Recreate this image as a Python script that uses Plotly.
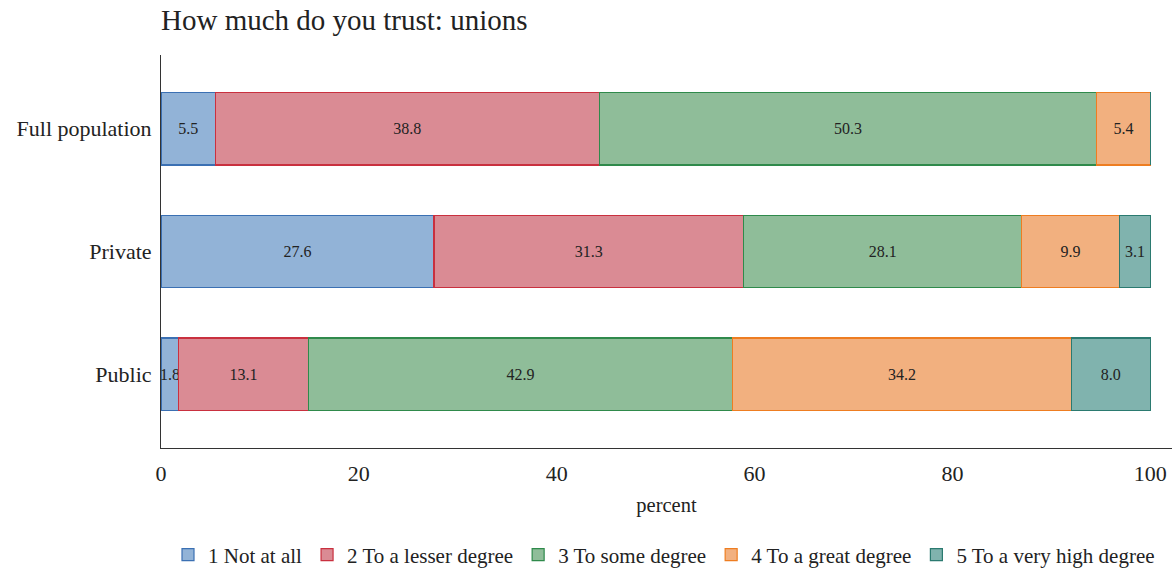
import plotly.graph_objects as go

categories = ["Full population", "Private", "Public"]
series_names = ["1 Not at all", "2 To a lesser degree", "3 To some degree",
                "4 To a great degree", "5 To a very high degree"]
v1 = [5.5, 27.6, 1.8]
v2 = [38.8, 31.3, 13.1]
v3 = [50.3, 28.1, 42.9]
v4 = [5.4, 9.9, 34.2]
v5 = [0.0, 3.1, 8.0]
x_ticks = [0, 20, 40, 60, 80, 100]

series_values = [v1, v2, v3, v4, v5]
fills = ["#92b3d7", "#da8b94", "#8fbd99", "#f2b07f", "#80b3ae"]
lines = ["#3b70b3", "#c9303f", "#2f8a4b", "#ee7d21", "#2b7a70"]

FONT = "Liberation Serif"
fig = go.Figure()
for name, vals, fc, lc in zip(series_names, series_values, fills, lines):
    fig.add_trace(go.Bar(
        y=categories, x=vals, name=name, orientation="h",
        marker=dict(color=fc, line=dict(color=lc, width=1.2)),
        text=[f"{v:.1f}" if v > 0 else "" for v in vals],
        textposition="inside", insidetextanchor="middle", textangle=0,
        constraintext="none",
        textfont=dict(family=FONT, size=16, color="#222222"),
        width=0.59, hoverinfo="x+name",
    ))

fig.update_layout(
    barmode="stack",
    width=1175, height=571,
    margin=dict(l=161, r=3, t=55, b=123, autoexpand=False),
    plot_bgcolor="white", paper_bgcolor="white",
    font=dict(family=FONT, color="#222222"),
    title=dict(text="How much do you trust: unions", x=161/1175, xanchor="left",
               y=1-20/571, yanchor="middle",
               font=dict(family=FONT, size=29, color="#222222")),
    xaxis=dict(range=[0, 102.2], tickvals=x_ticks, showgrid=False, zeroline=False,
               showline=True, linecolor="#333333", linewidth=1, ticks="",
               tickfont=dict(size=22), ticklabelstandoff=6,
               title=dict(text="percent", font=dict(size=20.5), standoff=12)),
    yaxis=dict(autorange=False, range=[2.6, -0.6], showgrid=False, zeroline=False,
               showline=True, linecolor="#333333", linewidth=1, ticks="",
               tickfont=dict(size=22), ticklabelstandoff=4),
    legend=dict(orientation="h", x=168/1175, xanchor="left", xref="container",
                yref="container", y=1-555/571, yanchor="middle",
                font=dict(size=21), traceorder="normal"),
    showlegend=True,
)
fig.write_html("out.html", config={"displayModeBar": False},
               post_script="document.body.style.margin='0';document.body.style.padding='0';")
